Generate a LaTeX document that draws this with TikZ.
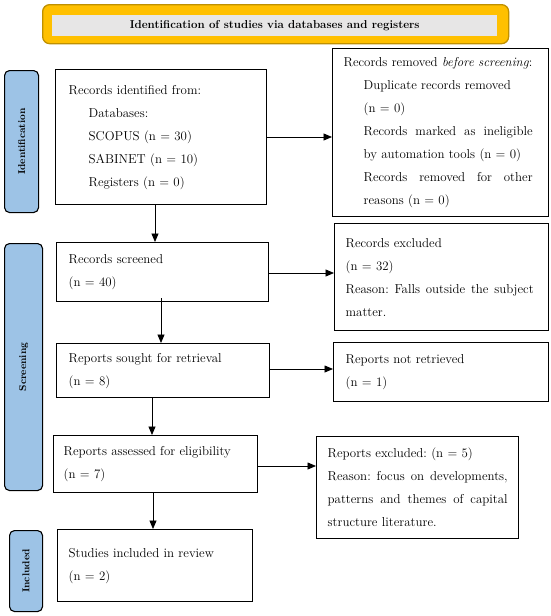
\documentclass[tikz,border=0pt]{standalone}
\usetikzlibrary{arrows.meta}
\definecolor{bannerfill}{HTML}{FFC000}
\definecolor{bannerdraw}{HTML}{BF9000}
\definecolor{bannerin}{HTML}{E7E6E6}
\definecolor{sidefill}{HTML}{9DC3E6}
\newcommand{\jl}[2]{\leavevmode\hbox to #1{#2}}
\frenchspacing
\begin{document}
\begin{tikzpicture}[x=1pt,y=-1pt,
  txt/.style={font={\fontsize{12.9}{23}\selectfont}},
  box/.style={draw, line width=1.4pt, anchor=north west, align=left, inner ysep=0pt, txt},
  side/.style={draw, line width=1.1pt, fill=sidefill, rounded corners=5pt, anchor=north west, inner sep=0pt},
  sidetxt/.style={font={\fontsize{10}{12}\selectfont\bfseries}, rotate=90},
  arr/.style={line width=0.8pt, -{Triangle[length=8.5pt,width=7pt]}}]
\useasboundingbox (0,0) rectangle (550,616);
% banner
\node[draw=bannerdraw, line width=1.3pt, fill=bannerfill, rounded corners=7pt, anchor=north west,
  minimum width=466pt, minimum height=39pt, inner sep=0pt] (banner) at (42,4) {};
\node[fill=bannerin, anchor=north west, minimum width=445pt, minimum height=21pt, inner sep=0pt,
  font={\fontsize{11.5}{14}\selectfont\bfseries}] (bannertxt) at (52,15) {Identification of studies via databases and registers};
% side labels
\node[side, minimum width=34pt, minimum height=142pt] (sideid) at (4,70) {};
\node[sidetxt] (sideidt) at (sideid.center) {Identification};
\node[side, minimum width=38pt, minimum height=247pt] (sidescr) at (4,243) {};
\node[sidetxt] (sidescrt) at (sidescr.center) {Screening};
\node[side, minimum width=33pt, minimum height=81pt] (sideinc) at (9,530) {};
\node[sidetxt] (sideinct) at (sideinc.center) {Included};
% boxes
\node[box, minimum width=211pt, minimum height=135pt, inner xsep=13pt, text width=185pt] (ident) at (55,69)
  {Records identified from:\\ \hspace*{20pt}Databases:\\ \hspace*{20pt}SCOPUS (n = 30)\\ \hspace*{20pt}SABINET (n = 10)\\ \hspace*{20pt}Registers (n = 0)};
\node[box, minimum width=216pt, minimum height=168pt, inner xsep=11pt, text width=194pt] (removed) at (332,48)
  {Records removed \textit{before screening}:\\
   \hspace*{20pt}Duplicate records removed\\
   \hspace*{20pt}(n = 0)\\
   \hspace*{20pt}\jl{169pt}{Records\hfill marked\hfill as\hfill ineligible}\\
   \hspace*{20pt}by automation tools (n = 0)\\
   \hspace*{20pt}\jl{169pt}{Records\hfill removed\hfill for\hfill other}\\
   \hspace*{20pt}reasons (n = 0)};
\node[box, minimum width=212pt, minimum height=59pt, inner xsep=12pt, text width=188pt] (screened) at (56,242)
  {Records screened\\ (n = 40)};
\node[box, minimum width=214pt, minimum height=107pt, inner xsep=11pt, text width=192pt] (excl) at (334,223)
  {Records excluded\\ (n = 32)\\ \jl{188pt}{Reason:\hfill Falls\hfill outside\hfill the\hfill subject}\\ matter.};
\node[box, minimum width=213pt, minimum height=54pt, inner xsep=12pt, text width=189pt] (sought) at (56,343)
  {Reports sought for retrieval\\ (n = 8)};
\node[box, minimum width=215pt, minimum height=59pt, inner xsep=12pt, text width=191pt] (notret) at (333,342)
  {Reports not retrieved\\ (n = 1)};
\node[box, minimum width=204pt, minimum height=57pt, inner xsep=10pt, text width=184pt] (assessed) at (53,435)
  {Reports assessed for eligibility\\ (n = 7)};
\node[box, minimum width=202pt, minimum height=102pt, inner xsep=11pt, text width=180pt] (repexcl) at (316,436)
  {Reports excluded: (n = 5)\\ \jl{180pt}{Reason:\hfill focus\hfill on\hfill developments,}\\ \jl{180pt}{patterns\hfill and\hfill themes\hfill of\hfill capital}\\ structure literature.};
\node[box, minimum width=195pt, minimum height=72pt, inner xsep=11pt, text width=173pt] (studies) at (57,529)
  {Studies included in review\\ (n = 2)};
% arrows
\draw[arr] (ident.east |- 0,137) -- (removed.west |- 0,137);
\draw[arr] (ident.south -| 155,0) -- (screened.north -| 155,0);
\draw[arr] (screened.east |- 0,273) -- (excl.west |- 0,273);
\draw[arr] ([yshift=4pt]screened.south -| 161,0) -- (sought.north -| 161,0);
\draw[arr] (sought.east |- 0,369) -- (notret.west |- 0,369);
\draw[arr] (sought.south -| 152,0) -- (assessed.north -| 152,0);
\draw[arr] (assessed.east |- 0,466) -- (repexcl.west |- 0,466);
\draw[arr] (assessed.south -| 153,0) -- (studies.north -| 153,0);
\end{tikzpicture}
\end{document}
